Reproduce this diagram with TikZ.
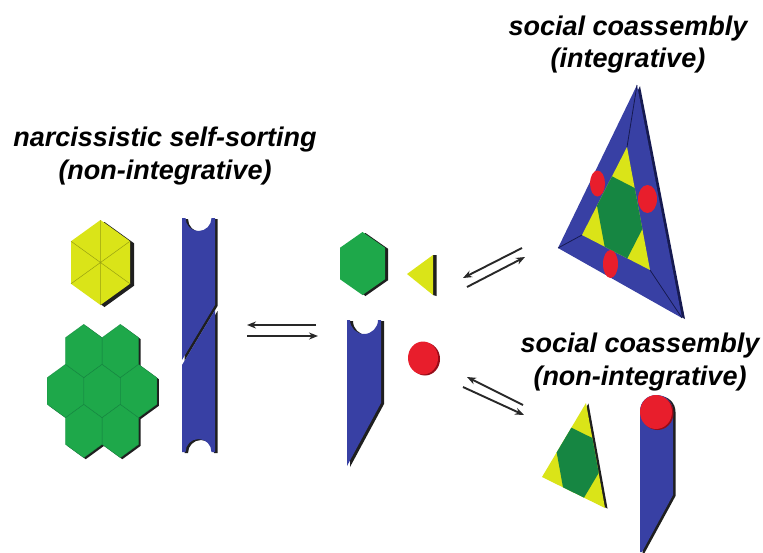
\documentclass[tikz,border=0pt]{standalone}
\usepackage{fontspec}
\setmainfont{Liberation Sans}
\usetikzlibrary{arrows.meta,calc}

\definecolor{molblue}{RGB}{56,64,164}
\definecolor{navy}{RGB}{22,26,80}
\definecolor{molyellow}{RGB}{218,228,24}
\definecolor{molgreen}{RGB}{30,168,74}
\definecolor{darkgreen}{RGB}{22,134,66}
\definecolor{molred}{RGB}{232,30,44}
\definecolor{darkred}{RGB}{150,12,24}
\definecolor{arrowgray}{RGB}{40,40,40}

% pointy-top hexagon: centre x, centre y, half width, half height
\newcommand{\hexcell}[4]{(#1,#2-#4) -- (#1+#3,#2-#4/2) -- (#1+#3,#2+#4/2) -- (#1,#2+#4) -- (#1-#3,#2+#4/2) -- (#1-#3,#2-#4/2) -- cycle}

\tikzset{
  caption/.style={font=\fontsize{27}{32}\selectfont\bfseries\itshape, anchor=base, inner sep=0pt},
  eqarrow/.style={line width=1.9pt, draw=arrowgray, -{Stealth[length=9pt,width=7pt]}},
  shade/.style={fill=black!88},
  mitre/.style={draw=navy, line width=0.8pt},
}

\begin{document}
\begin{tikzpicture}[x=1pt,y=-1pt]
\useasboundingbox (0,0) rectangle (763,552);

% ---------- captions ----------
\node[caption] (ns1) at (165,146) {narcissistic self-sorting};
\node[caption] (ns2) at (165,179) {(non-integrative)};
\node[caption] (si1) at (628,35) {social coassembly};
\node[caption] (si2) at (628,67) {(integrative)};
\node[caption] (sn1) at (640,352) {social coassembly};
\node[caption] (sn2) at (640,385) {(non-integrative)};

% ---------- yellow hexagon (self-sorted) ----------
\fill[shade, shift={(4,2)}] \hexcell{100.5}{262.5}{29.5}{42.5};
\fill[molyellow] \hexcell{100.5}{262.5}{29.5}{42.5};
\draw[molyellow!70!black, line width=0.5pt]
  (100.5,220) -- (100.5,305)
  (71,241.25) -- (130,283.75)
  (130,241.25) -- (71,283.75);

% ---------- green hexagon cluster ----------
\begin{scope}[shift={(2,1.5)}]
  \foreach \cx/\cy in {83.75/351,120.35/351,65.5/391,102/391,138.5/391,83.75/431,120.35/431}
    \fill[shade] \hexcell{\cx}{\cy}{18.3}{26.7};
\end{scope}
\foreach \cx/\cy in {83.75/351,120.35/351,65.5/391,102/391,138.5/391,83.75/431,120.35/431}
  \fill[molgreen] \hexcell{\cx}{\cy}{18.3}{26.7};
\foreach \cx/\cy in {83.75/351,120.35/351,65.5/391,102/391,138.5/391,83.75/431,120.35/431}
  \draw[darkgreen, line width=0.4pt, opacity=0.7] \hexcell{\cx}{\cy}{18.3}{26.7};

% ---------- split blue strand ----------
\begin{scope}[shift={(2.5,1)}]
  \fill[shade] (182,218) -- (185.5,218) .. controls (185.5,225.2) and (191.3,231) .. (198.5,231)
    .. controls (205.7,231) and (211.5,225.2) .. (211.5,218) -- (215,218) -- (215,305) -- (182,360) -- cycle;
  \fill[shade] (215,310) -- (215,452) -- (211.5,452) .. controls (211.5,444.8) and (205.7,439) .. (198.5,439)
    .. controls (191.3,439) and (185.5,444.8) .. (185.5,452) -- (182,452) -- (182,365) -- cycle;
\end{scope}
\fill[molblue] (182,218) -- (185.5,218) .. controls (185.5,225.2) and (191.3,231) .. (198.5,231)
  .. controls (205.7,231) and (211.5,225.2) .. (211.5,218) -- (215,218) -- (215,305) -- (182,360) -- cycle;
\fill[molblue] (215,310) -- (215,452) -- (211.5,452) .. controls (211.5,444.8) and (205.7,439) .. (198.5,439)
  .. controls (191.3,439) and (185.5,444.8) .. (185.5,452) -- (182,452) -- (182,365) -- cycle;

% ---------- equilibrium arrows ----------
\coordinate (e1a) at (316,325); \coordinate (e1b) at (247,325);
\coordinate (e1c) at (247,336); \coordinate (e1d) at (318,336);
\draw[eqarrow] (e1a) -- (e1b);
\draw[eqarrow] (e1c) -- (e1d);

\coordinate (e2a) at (522,248); \coordinate (e2b) at (463,278);
\coordinate (e2c) at (467,287); \coordinate (e2d) at (525,257);
\draw[eqarrow] (e2a) -- (e2b);
\draw[eqarrow] (e2c) -- (e2d);

\coordinate (e3a) at (523,405); \coordinate (e3b) at (467,377);
\coordinate (e3c) at (463,387); \coordinate (e3d) at (524,415);
\draw[eqarrow] (e3a) -- (e3b);
\draw[eqarrow] (e3c) -- (e3d);

% ---------- free components ----------
\fill[shade, shift={(3,1)}] \hexcell{362.5}{263.5}{22.5}{31.5};
\fill[molgreen] \hexcell{362.5}{263.5}{22.5}{31.5};

\fill[shade] (433,255) -- (436.5,255) -- (436.5,296) -- (433,295) -- cycle;
\fill[molyellow] (407,274) -- (433,255) -- (433,295) -- cycle;

\fill[shade, shift={(3,1)}] (347,320) -- (350,320) .. controls (350,327.7) and (356.3,334) .. (364,334)
  .. controls (371.7,334) and (378,327.7) .. (378,320) -- (381,320) -- (381,403) -- (347,466) -- cycle;
\fill[molblue] (347,320) -- (350,320) .. controls (350,327.7) and (356.3,334) .. (364,334)
  .. controls (371.7,334) and (378,327.7) .. (378,320) -- (381,320) -- (381,403) -- (347,466) -- cycle;

\fill[darkred] (425,359) ellipse [x radius=15, y radius=16.5];
\fill[molred] (423,358) ellipse [x radius=15, y radius=16.5];

% ---------- integrative triangle ----------
\coordinate (T) at (637,85);
\coordinate (L) at (558,248);
\coordinate (R) at (682,318);
\coordinate (ia) at (627,147);
\coordinate (ib) at (582,235);
\coordinate (ic) at (650,270);
\fill[navy] ($(T)+(3,1)$) -- ($(R)+(3,1)$) -- ($(L)+(3,1)$) -- cycle;
\fill[molblue] (T) -- (R) -- (L) -- cycle;
\draw[mitre] (T) -- (ia) (L) -- (ib) (R) -- (ic);
\fill[molyellow] (ia) -- (ib) -- (ic) -- cycle;
\fill[darkgreen] ($(ia)!1/3!(ib)$) -- ($(ia)!2/3!(ib)$) -- ($(ib)!1/3!(ic)$) -- ($(ib)!2/3!(ic)$)
  -- ($(ic)!1/3!(ia)$) -- ($(ic)!2/3!(ia)$) -- cycle;
\fill[molred] (597.5,183.5) ellipse [x radius=7.5, y radius=13];
\fill[molred] (647.5,199) ellipse [x radius=9.5, y radius=14];
\fill[molred] (610.5,264) ellipse [x radius=7.5, y radius=14];

% ---------- non-integrative pair ----------
\coordinate (A) at (586,403);
\coordinate (B) at (542,477);
\coordinate (C) at (605,508);
\fill[shade] ($(A)+(2.5,0.5)$) -- ($(C)+(2.5,0.5)$) -- ($(B)+(2.5,0.5)$) -- cycle;
\fill[molyellow] (A) -- (B) -- (C) -- cycle;
\fill[darkgreen] ($(A)!1/3!(B)$) -- ($(A)!2/3!(B)$) -- ($(B)!1/3!(C)$) -- ($(B)!2/3!(C)$)
  -- ($(C)!1/3!(A)$) -- ($(C)!2/3!(A)$) -- cycle;

\fill[shade, shift={(2.5,1)}] (640,411) .. controls (640,402) and (647,395) .. (656.5,395)
  .. controls (666,395) and (673,402) .. (673,411) -- (673,495) -- (642,552) -- (640,552) -- cycle;
\fill[molblue] (640,411) .. controls (640,402) and (647,395) .. (656.5,395)
  .. controls (666,395) and (673,402) .. (673,411) -- (673,495) -- (642,552) -- (640,552) -- cycle;
\fill[darkred] (657.5,413) ellipse [x radius=16, y radius=17];
\fill[molred] (656,412) ellipse [x radius=16, y radius=17];

\end{tikzpicture}
\end{document}
